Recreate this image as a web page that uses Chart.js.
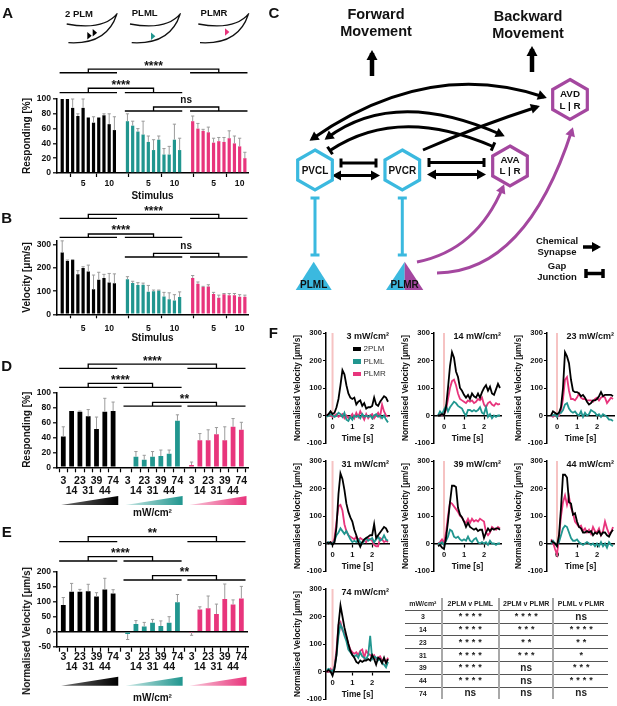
<!DOCTYPE html>
<html>
<head>
<meta charset="utf-8">
<title>PLM stimulation responses</title>
<script src="https://cdn.jsdelivr.net/npm/chart.js@4.4.1/dist/chart.umd.min.js"></script>
<style>
  html, body { margin: 0; padding: 0; background: #fff; }
  body { position: relative; width: 617px; height: 706px; overflow: hidden;
         font-family: "Liberation Sans", Arial, sans-serif; color: #111; }
  canvas { position: absolute; }
  .t { position: absolute; transform: translate(-50%, -50%); white-space: nowrap;
       font-weight: bold; line-height: 1; text-align: center; }
  #sigTable { position: absolute; left: 405px; top: 598px; width: 203px;
              border-collapse: collapse; table-layout: fixed; color: #222; }
  #sigTable td { padding: 0; text-align: center; font-weight: bold; font-size: 7px;
                 line-height: 1; height: 11.8px; border-bottom: 1px solid #555; }
  #sigTable tr:first-child td { height: 11px; }
  #sigTable tr:last-child td { border-bottom: none; }
  #sigTable td + td { border-left: 2px solid #a8a8a8; }
  #sigTable .stars { font-size: 9px; letter-spacing: 3px; padding-left: 3px; }
  #sigTable .ns { font-size: 10px; }
</style>
</head>
<body>
<script>
// ---------- data ----------
const groupNames = ['2PLM', 'PLML', 'PLMR'];
const groupColors = ['#000000', '#21968f', '#e8357c'];
const groupTints = ['#6a6a6a', '#c6e6e3', '#f9c9da'];

// A / B : repeated stimuli
const stimulusLabels = ['1', '2', '3', '4', '5', '6', '7', '8', '9', '10', '11'];
const stimulusTickLabels = ['5', '10'];

const respA_2PLM = [100, 100, 88, 77, 88, 75, 68, 75, 78, 66, 58];
const respA_2PLM_sem = [0, 0, 12, 3, 12, 0, 8, 0, 2, 14, 18];
const respA_PLML = [70, 64, 56, 52, 42, 31, 45, 25, 25, 45, 31];
const respA_PLML_sem = [10, 6, 4, 18, 8, 14, 5, 8, 11, 21, 16];
const respA_PLMR = [70, 60, 57, 55, 41, 43, 42, 47, 40, 36, 20];
const respA_PLMR_sem = [7, 7, 2, 7, 6, 5, 6, 10, 10, 11, 8];

const velB_2PLM = [268, 231, 235, 173, 200, 185, 108, 150, 157, 138, 134];
const velB_2PLM_sem = [50, 4, 2, 16, 6, 28, 62, 32, 16, 39, 41];
const velB_PLML = [152, 135, 127, 128, 98, 100, 103, 77, 65, 60, 75];
const velB_PLML_sem = [11, 8, 10, 7, 27, 5, 2, 18, 28, 25, 22];
const velB_PLMR = [157, 132, 118, 120, 88, 72, 87, 83, 83, 76, 76];
const velB_PLMR_sem = [11, 8, 3, 8, 7, 11, 3, 7, 7, 9, 7];

// D / E : light intensity (mW/cm2)
const doseLabels = ['3', '14', '23', '31', '39', '44', '74'];

const respD_2PLM = [41, 75, 74, 68, 51, 74, 75];
const respD_2PLM_sem = [13, 0, 1, 9, 16, 18, 12];
const respD_PLML = [0, 14, 10, 14, 15, 18, 62];
const respD_PLML_sem = [0, 7, 6, 7, 8, 5, 8];
const respD_PLMR = [3, 36, 36, 44, 36, 54, 50];
const respD_PLMR_sem = [4, 9, 14, 9, 18, 11, 10];

const velE_2PLM = [89, 133, 133, 135, 117, 141, 127];
const velE_2PLM_sem = [25, 28, 8, 23, 13, 37, 13];
const velE_PLML = [-8, 26, 17, 30, 19, 30, 98];
const velE_PLML_sem = [18, 11, 14, 11, 17, 20, 26];
const velE_PLMR = [-1, 74, 78, 59, 109, 91, 111];
const velE_PLMR_sem = [11, 9, 41, 33, 50, 15, 40];

// F : velocity traces
const timeSec = [-0.3, -0.2, -0.1, 0, 0.1, 0.2, 0.3, 0.4, 0.5, 0.6, 0.7, 0.8, 0.9, 1.0, 1.1, 1.2,
                 1.3, 1.4, 1.5, 1.6, 1.7, 1.8, 1.9, 2.0, 2.1, 2.2, 2.3, 2.4, 2.5, 2.6, 2.7, 2.8];
const timeTicks = [0, 1, 2];
const velocityTicks = [-100, 0, 100, 200, 300];

const v3_2PLM = [0, 5, 15, 5, 10, 30, 60, 110, 165, 150, 110, 80, 65, 60, 65, 40, 50, 55, 35, 45, 25, 30, 30, 35, 65, 40, 35, 50, 60, 70, 65, 50];
const v3_PLML = [-5, 0, 5, 0, -5, 0, 10, 5, -5, 10, -15, -20, -5, -15, 0, -5, 0, -10, 5, -5, 0, -5, 0, -10, 0, 5, -5, 0, -10, 0, -15, -25];
const v3_PLMR = [0, 5, 0, -5, 0, 5, -5, 0, 5, -10, 0, -10, -5, 5, -10, 10, -5, 15, 0, -15, 5, -10, 0, 5, -10, 0, 10, -5, 40, 15, 0, -5];

const v14_2PLM = [0, 0, 5, 0, 30, 100, 180, 230, 210, 160, 140, 100, 90, 75, 65, 75, 60, 80, 70, 65, 80, 65, 85, 100, 110, 90, 105, 80, 75, 95, 115, 100];
const v14_PLML = [0, 15, 5, 20, 35, 15, 30, 40, 50, 45, 35, 30, 25, 10, 0, 20, 20, 15, 20, 15, 20, 30, 10, 5, 30, -5, 5, -10, 0, -5, 0, 0];
const v14_PLMR = [0, 5, 0, 5, 20, 60, 100, 125, 130, 110, 80, 60, 55, 50, 45, 55, 50, 55, 45, 50, 60, 55, 65, 40, 30, 45, 50, 40, 35, 45, 40, 42];

const v23_2PLM = [0, 15, 10, 5, 10, 30, 100, 230, 215, 190, 130, 90, 85, 85, 80, 70, 75, 65, 50, 40, 45, 55, 55, 60, 70, 85, 70, 75, 75, 75, 75, 70];
const v23_PLML = [0, 0, 5, -5, 10, 10, 20, 40, 45, 25, 15, 10, 15, 5, 0, 15, -5, 10, 0, 5, 20, 15, 10, 0, 5, -5, 5, 0, -5, -15, -15, -20];
const v23_PLMR = [0, -5, 5, -5, 0, 20, 60, 130, 140, 90, 60, 60, 55, 65, 80, 65, 60, 60, 55, 55, 55, 50, 60, 65, 55, 65, 70, 65, 45, 55, 65, 60];

const v31_2PLM = [5, 0, 5, -5, 5, 60, 180, 255, 235, 195, 145, 115, 95, 80, 50, 30, 5, -12, 5, 15, 20, 25, 30, 30, 70, 20, 30, 40, 50, 60, 55, 40];
const v31_PLML = [0, 5, 0, 0, 10, 30, 40, 55, 45, 35, 45, 30, 15, 5, 10, 5, 15, 5, 0, 10, 20, 10, 15, 20, 5, 15, 25, 10, 15, 30, 15, 10];
const v31_PLMR = [5, 0, 5, 0, 20, 80, 135, 140, 120, 70, 45, 30, 25, 20, 15, 25, 10, 20, 15, 10, 5, 20, 15, 10, -5, -10, -10, 20, 15, 5, 10, 5];

const v39_2PLM = [-10, -5, -15, -20, 20, 80, 150, 210, 210, 205, 130, 105, 95, 80, 60, 75, 60, 55, 50, 55, 45, 50, 50, 20, 40, 55, 45, 55, 50, 55, 55, 50];
const v39_PLML = [0, 0, 5, -5, 10, 25, 50, 45, 25, 20, 25, 15, 10, 15, 10, 25, 10, 5, 15, 20, 5, 0, 5, 0, 5, -5, 10, 0, 0, -5, 0, 0];
const v39_PLMR = [0, 5, 15, 0, 40, 100, 150, 145, 135, 125, 115, 100, 95, 80, 75, 90, 75, 90, 80, 85, 80, 90, 85, 80, 40, 30, 40, 60, 55, 50, 60, 55];

const v44_2PLM = [10, 5, 0, -10, 30, 130, 250, 250, 240, 150, 145, 105, 110, 80, 60, 55, 40, 40, 45, 40, 45, 30, 40, 35, 45, 30, 40, 40, 30, 25, 40, 50];
const v44_PLML = [0, 10, 0, -5, 5, 30, 55, 65, 60, 40, 20, 10, 10, 15, 5, 0, -5, 0, 5, 0, -5, 0, -10, 0, -10, 5, -10, 0, -15, 5, -5, -10];
const v44_PLMR = [15, 5, -20, -40, 20, 100, 150, 175, 140, 170, 130, 110, 80, 70, 60, 65, 45, 55, 40, 50, 35, 60, 45, 40, 55, 30, 45, 80, 55, 35, 40, 60];

const v74_2PLM = [0, 5, 0, -15, 10, 60, 170, 240, 200, 160, 130, 100, 75, 60, 50, 35, 30, 40, 35, 40, 40, 45, 40, 60, 45, 25, 50, 45, 30, 50, 30, 45];
const v74_PLML = [5, 10, 5, 0, 15, 60, 130, 170, 155, 130, 110, 80, 70, 60, 55, 60, 50, 70, 55, 50, 45, 60, 130, 45, 55, 50, 40, 45, 30, 25, 15, 35];
const v74_PLMR = [0, 0, 10, 0, 20, 80, 170, 180, 150, 140, 125, 100, 80, 70, 65, 70, 60, 75, 80, 50, 75, 65, 60, 55, 60, 45, 50, 55, 40, 45, 35, 50];

// F : statistics table
const tableHeader = ['mW/cm²', '2PLM v PLML', '2PLM v PLMR', 'PLML v PLMR'];
const sig2PLMvPLML = ['****', '****', '****', '****', '****', '****', 'ns'];
const sig2PLMvPLMR = ['****', '***', '**', '***', 'ns', 'ns', 'ns'];
const sigPLMLvPLMR = ['ns', '****', '**', '*', '***', '****', 'ns'];

// ---------- setup ----------
const FONT = '"Liberation Sans", Arial, sans-serif';
Chart.defaults.font.family = FONT;
Chart.defaults.font.weight = 'bold';
Chart.defaults.color = '#111';
Chart.defaults.animation = false;
Chart.defaults.plugins.legend.display = false;
Chart.defaults.plugins.tooltip.enabled = false;

function makeCanvas(left, top, w, h) {
  const c = document.createElement('canvas');
  c.width = w; c.height = h;
  c.style.left = left + 'px'; c.style.top = top + 'px';
  document.body.appendChild(c);
  return c;
}

function addText(html, x, y, size, opts = {}) {
  const d = document.createElement('div');
  d.className = 't';
  d.innerHTML = html;
  d.style.left = x + 'px';
  d.style.top = y + 'px';
  d.style.fontSize = size + 'px';
  if (opts.lh) d.style.lineHeight = opts.lh + 'px';
  if (opts.weight) d.style.fontWeight = opts.weight;
  if (opts.color) d.style.color = opts.color;
  if (opts.transform) d.style.transform = opts.transform;
  document.body.appendChild(d);
  return d;
}

function stimulusTicks(offsets) {
  const pos = [], text = [];
  offsets.forEach(off => stimulusLabels.forEach((lab, i) => {
    if (stimulusTickLabels.includes(lab)) { pos.push(off + i + 1); text.push(lab); }
  }));
  return { pos, text };
}

function doseTicks(offsets) {
  const pos = [], text = [];
  offsets.forEach(off => doseLabels.forEach((lab, i) => {
    pos.push(off + i + 1);
    text.push(i % 2 ? ['', lab] : [lab, '']);
  }));
  return { pos, text };
}

// gray SEM whiskers on top of each bar
const errorBars = {
  id: 'errorBars',
  afterDatasetsDraw(chart) {
    const ctx = chart.ctx, y = chart.scales.y;
    ctx.save();
    ctx.strokeStyle = '#9c9c9c';
    ctx.lineWidth = 1;
    chart.data.datasets.forEach((ds, di) => {
      chart.getDatasetMeta(di).data.forEach((bar, i) => {
        const v = ds.data[i].y, e = ds.sem[i];
        if (!e) return;
        const y0 = y.getPixelForValue(v);
        const y1 = y.getPixelForValue(v < 0 ? v - e : v + e);
        ctx.beginPath();
        ctx.moveTo(bar.x, y0); ctx.lineTo(bar.x, y1);
        ctx.moveTo(bar.x - 1.6, y1); ctx.lineTo(bar.x + 1.6, y1);
        ctx.stroke();
      });
    });
    ctx.restore();
  }
};

// significance brackets and intensity wedges
function annotations(cfg) {
  return {
    id: 'annotations',
    afterDraw(chart) {
      const { ctx, scales: { x, y }, chartArea } = chart;
      const n = cfg.n;
      const ext = g => [x.getPixelForValue(cfg.offsets[g] + 0.5), x.getPixelForValue(cfg.offsets[g] + n + 0.5)];
      ctx.save();
      ctx.strokeStyle = '#000';
      ctx.lineWidth = 1.3;
      ctx.fillStyle = '#111';
      cfg.brackets.forEach(b => {
        const yu = y.getPixelForValue(b.under), yb = y.getPixelForValue(b.bridge);
        const ea = ext(b.a), eb = ext(b.b);
        const ca = (ea[0] + ea[1]) / 2, cb = (eb[0] + eb[1]) / 2;
        ctx.beginPath();
        ctx.moveTo(ea[0], yu); ctx.lineTo(ea[1], yu);
        ctx.moveTo(eb[0], yu); ctx.lineTo(eb[1], yu);
        ctx.moveTo(ca, yu); ctx.lineTo(ca, yb); ctx.lineTo(cb, yb); ctx.lineTo(cb, yu);
        ctx.stroke();
        const stars = b.text !== 'ns';
        ctx.font = (stars ? 'bold 12px ' : 'bold 10px ') + FONT;
        ctx.textAlign = 'center';
        ctx.textBaseline = 'alphabetic';
        ctx.fillText(b.text, (ca + cb) / 2, stars ? yb + 0.5 : yb - 4.4);
      });
      if (cfg.wedge) {
        const yb = chartArea.bottom + cfg.wedge.dy;
        [0, 1, 2].forEach(g => {
          const [l0, r0] = ext(g);
          const l = l0 + 2, r = r0 + 1;
          const grad = ctx.createLinearGradient(l, 0, r, 0);
          grad.addColorStop(0, groupTints[g]);
          grad.addColorStop(1, groupColors[g]);
          ctx.fillStyle = grad;
          ctx.beginPath();
          ctx.moveTo(l, yb); ctx.lineTo(r, yb); ctx.lineTo(r, yb - cfg.wedge.h);
          ctx.closePath();
          ctx.fill();
        });
      }
      ctx.restore();
    }
  };
}

function barPanel(cfg) {
  const canvas = makeCanvas(cfg.left, cfg.top, cfg.width, cfg.height);
  const datasets = cfg.values.map((vals, g) => ({
    label: groupNames[g],
    data: vals.map((v, i) => ({ x: cfg.offsets[g] + i + 1, y: v })),
    sem: cfg.sem[g],
    backgroundColor: groupColors[g],
    borderWidth: 0,
    barPercentage: cfg.barPct,
    grouped: false
  }));
  const ticks = cfg.ticks;
  return new Chart(canvas, {
    type: 'bar',
    data: { datasets },
    options: {
      responsive: false,
      layout: { padding: { top: cfg.areaTop, right: cfg.width - 248, left: 0, bottom: 0 } },
      scales: {
        x: {
          type: 'linear',
          min: cfg.xMin,
          max: cfg.xMax,
          offset: false,
          afterBuildTicks: s => { s.ticks = ticks.pos.map(v => ({ value: v })); },
          afterFit: s => { s.height = cfg.xHeight; },
          ticks: {
            autoSkip: false, maxRotation: 0, minRotation: 0,
            padding: cfg.xTickPad,
            font: { size: cfg.xTickSize, lineHeight: cfg.xTickLH },
            callback: (v, i) => ticks.text[i]
          },
          grid: { drawOnChartArea: false, tickLength: cfg.xTickLen, tickColor: '#000', tickWidth: 1.2 },
          border: { color: '#000', width: 1.5 },
          title: { display: true, text: cfg.xTitle, font: { size: 10 }, padding: { top: 0, bottom: cfg.xTitlePad } }
        },
        y: {
          min: cfg.yMin,
          max: cfg.yMax,
          afterBuildTicks: s => { s.ticks = cfg.yTicks.map(v => ({ value: v })); },
          afterFit: s => { s.width = 57; },
          ticks: { padding: 2, font: { size: 8.6 } },
          grid: {
            drawOnChartArea: !!cfg.zeroLine,
            color: c => (c.tick && c.tick.value === 0 ? '#000' : 'rgba(0,0,0,0)'),
            lineWidth: 1.6,
            tickLength: 4, tickColor: '#000', tickWidth: 1.2
          },
          border: { color: '#000', width: 1.5 },
          title: { display: !!cfg.yTitle, text: cfg.yTitle, font: { size: 10 }, padding: { top: 21, bottom: 0 } }
        }
      }
    },
    plugins: [errorBars, annotations(cfg)].concat(cfg.extra ? [cfg.extra] : [])
  });
}

// worm tail sketches above panel A
const wormSketch = {
  id: 'wormSketch',
  afterDraw(chart) {
    const ctx = chart.ctx;
    const icons = [
      { ox: 66.7, tris: [[20.6, 35.8], [26, 32.7]] },
      { ox: 130, tris: [[21, 36.2]] },
      { ox: 198.3, tris: [[26.7, 32]] }
    ];
    ctx.save();
    icons.forEach((ic, g) => {
      const ox = ic.ox;
      ctx.strokeStyle = '#111';
      ctx.lineWidth = 1.3;
      ctx.beginPath();
      ctx.moveTo(ox, 24); ctx.quadraticCurveTo(ox + 36.7, 30.7, ox + 50.7, 13.3);
      ctx.moveTo(ox + 1.7, 42.7); ctx.quadraticCurveTo(ox + 40, 45, ox + 50, 14.5);
      ctx.stroke();
      ctx.fillStyle = groupColors[g];
      ic.tris.forEach(([tx, ty]) => {
        ctx.beginPath();
        ctx.moveTo(ox + tx, ty - 3.8);
        ctx.lineTo(ox + tx, ty + 3.8);
        ctx.lineTo(ox + tx + 4.4, ty);
        ctx.closePath();
        ctx.fill();
      });
    });
    ctx.restore();
  }
};

// ---------- A ----------
barPanel({
  left: 0, top: 0, width: 252, height: 200, areaTop: 99, xHeight: 27,
  values: [respA_2PLM, respA_PLML, respA_PLMR],
  sem: [respA_2PLM_sem, respA_PLML_sem, respA_PLMR_sem],
  offsets: [0, 12.5, 25], n: stimulusLabels.length, xMin: 0, xMax: 36.6, barPct: 0.77,
  ticks: stimulusTicks([0, 12.5, 25]), xTickSize: 8.6, xTickLH: 1.2, xTickPad: 1.2, xTickLen: 4,
  xTitle: 'Stimulus', xTitlePad: -2,
  yMin: 0, yMax: 100, yTicks: [0, 20, 40, 60, 80, 100], yTitle: 'Responding [%]',
  brackets: [
    { a: 0, b: 2, under: 135.5, bridge: 140.5, text: '****' },
    { a: 0, b: 1, under: 108.5, bridge: 114.5, text: '****' },
    { a: 1, b: 2, under: 83.8, bridge: 89.2, text: 'ns' }
  ],
  extra: wormSketch
});

// ---------- B ----------
barPanel({
  left: 0, top: 200, width: 252, height: 145, areaTop: 40.4, xHeight: 30.7,
  values: [velB_2PLM, velB_PLML, velB_PLMR],
  sem: [velB_2PLM_sem, velB_PLML_sem, velB_PLMR_sem],
  offsets: [0, 12.5, 25], n: stimulusLabels.length, xMin: 0, xMax: 36.6, barPct: 0.77,
  ticks: stimulusTicks([0, 12.5, 25]), xTickSize: 8.6, xTickLH: 1.2, xTickPad: 5.6, xTickLen: 4,
  xTitle: 'Stimulus', xTitlePad: 1,
  yMin: 0, yMax: 320, yTicks: [0, 100, 200, 300], yTitle: 'Velocity [μm/s]',
  brackets: [
    { a: 0, b: 2, under: 415.8, bridge: 433.1, text: '****' },
    { a: 0, b: 1, under: 333.5, bridge: 347.8, text: '****' },
    { a: 1, b: 2, under: 248.2, bridge: 264.2, text: 'ns' }
  ]
});

// ---------- D ----------
barPanel({
  left: 0, top: 345, width: 252, height: 175, areaTop: 47.3, xHeight: 52.7,
  values: [respD_2PLM, respD_PLML, respD_PLMR],
  sem: [respD_2PLM_sem, respD_PLML_sem, respD_PLMR_sem],
  offsets: [0, 7.75, 15.45], n: doseLabels.length, xMin: 0.24, xMax: 23.25, barPct: 0.72,
  ticks: doseTicks([0, 7.75, 15.45]), xTickSize: 10.5, xTickLH: 0.96, xTickPad: 3.4, xTickLen: 5,
  xTitle: 'mW/cm²', xTitlePad: 1,
  yMin: 0, yMax: 100, yTicks: [0, 20, 40, 60, 80, 100], yTitle: 'Responding [%]',
  brackets: [
    { a: 0, b: 2, under: 132, bridge: 137.7, text: '****' },
    { a: 0, b: 1, under: 106.7, bridge: 112, text: '****' },
    { a: 1, b: 2, under: 81.7, bridge: 86.7, text: '**' }
  ],
  wedge: { dy: 37.7, h: 9 }
});

// ---------- E ----------
barPanel({
  left: 0, top: 520, width: 252, height: 186, areaTop: 51.7, xHeight: 59.3,
  values: [velE_2PLM, velE_PLML, velE_PLMR],
  sem: [velE_2PLM_sem, velE_PLML_sem, velE_PLMR_sem],
  offsets: [0, 7.75, 15.45], n: doseLabels.length, xMin: 0.24, xMax: 23.25, barPct: 0.72,
  ticks: doseTicks([0, 7.75, 15.45]), xTickSize: 10.5, xTickLH: 0.96, xTickPad: 0.3, xTickLen: 5,
  xTitle: 'mW/cm²', xTitlePad: 2,
  yMin: -50, yMax: 200, yTicks: [-50, 0, 50, 100, 150, 200], yTitle: '', zeroLine: true,
  brackets: [
    { a: 0, b: 2, under: 300, bridge: 316.7, text: '**' },
    { a: 0, b: 1, under: 235.7, bridge: 250, text: '****' },
    { a: 1, b: 2, under: 172.3, bridge: 186.7, text: '**' }
  ],
  wedge: { dy: 39, h: 9 }
});
addText('Normalised Velocity [μm/s]', 27, 631, 10, { transform: 'translate(-50%, -50%) rotate(-90deg)' });

// ---------- C : circuit diagram ----------
const CYAN = '#3bb9df', PURPLE = '#a4479f';
function unit(a, b) { const dx = b[0] - a[0], dy = b[1] - a[1], l = Math.hypot(dx, dy); return [dx / l, dy / l]; }
function arrowHead(ctx, tip, d, len, wid, color) {
  const t = [tip[0] + d[0] * 3, tip[1] + d[1] * 3];
  const b = [t[0] - d[0] * len, t[1] - d[1] * len];
  const p = [-d[1], d[0]];
  ctx.fillStyle = color;
  ctx.beginPath();
  ctx.moveTo(t[0], t[1]);
  ctx.lineTo(b[0] + p[0] * wid / 2, b[1] + p[1] * wid / 2);
  ctx.lineTo(b[0] - p[0] * wid / 2, b[1] - p[1] * wid / 2);
  ctx.closePath();
  ctx.fill();
}
function barEnd(ctx, pt, d, wid, color, lw) {
  const p = [-d[1], d[0]];
  ctx.strokeStyle = color;
  ctx.lineWidth = lw;
  ctx.beginPath();
  ctx.moveTo(pt[0] + p[0] * wid / 2, pt[1] + p[1] * wid / 2);
  ctx.lineTo(pt[0] - p[0] * wid / 2, pt[1] - p[1] * wid / 2);
  ctx.stroke();
}
function link(ctx, p0, c, p2, startEnd, endEnd, color, lw, hs = 9) {
  if (!c) c = [(p0[0] + p2[0]) / 2, (p0[1] + p2[1]) / 2];
  ctx.strokeStyle = color;
  ctx.lineWidth = lw;
  ctx.lineCap = 'butt';
  ctx.beginPath();
  ctx.moveTo(p0[0], p0[1]);
  ctx.quadraticCurveTo(c[0], c[1], p2[0], p2[1]);
  ctx.stroke();
  [[p0, unit(c, p0), startEnd], [p2, unit(c, p2), endEnd]].forEach(([pt, d, kind]) => {
    if (kind === 'arrow') arrowHead(ctx, pt, d, hs, hs + 1, color);
    if (kind === 'bar') barEnd(ctx, pt, d, 9, color, lw);
  });
}
function hexagon(ctx, cx, cy, r, color) {
  ctx.beginPath();
  for (let k = 0; k < 6; k++) {
    const a = Math.PI / 180 * (60 * k - 90);
    const px = cx + r * Math.cos(a), py = cy + r * Math.sin(a);
    if (k) ctx.lineTo(px, py); else ctx.moveTo(px, py);
  }
  ctx.closePath();
  ctx.fillStyle = '#fff';
  ctx.fill();
  ctx.strokeStyle = color;
  ctx.lineWidth = 3.2;
  ctx.stroke();
}

const circuit = {
  id: 'circuit',
  afterDraw(chart) {
    const ctx = chart.ctx;
    ctx.save();
    ctx.translate(-290, 0);
    // movement arrows
    link(ctx, [372, 76], null, [372, 53], null, 'arrow', '#000', 4.5, 10);
    link(ctx, [532, 72], null, [532, 49], null, 'arrow', '#000', 4.5, 10);
    // long range synapses
    link(ctx, [312, 139], [428, 58], [544, 97], 'arrow', 'arrow', '#000', 3);
    link(ctx, [327, 138], [395, 87], [502, 135], 'arrow', 'arrow', '#000', 3);
    link(ctx, [330, 150.5], [398, 105], [493, 146.5], 'bar', 'bar', '#000', 3);
    link(ctx, [423, 150], [478, 126], [537, 107], null, 'arrow', '#000', 3);
    // neighbour connections
    link(ctx, [341, 163], null, [376, 163], 'bar', 'bar', '#000', 3);
    link(ctx, [335, 175.5], null, [377, 175.5], 'arrow', 'arrow', '#000', 3);
    link(ctx, [429, 162.5], null, [484, 162.5], 'bar', 'bar', '#000', 3);
    link(ctx, [430, 174.5], null, [483, 174.5], 'arrow', 'arrow', '#000', 3);
    // sensory inputs
    link(ctx, [315, 198], null, [315, 255], 'bar', 'bar', CYAN, 3);
    link(ctx, [402.3, 198], null, [402.3, 255], 'bar', 'bar', CYAN, 3);
    link(ctx, [417, 262], [477, 250], [503, 187], null, 'arrow', PURPLE, 3);
    link(ctx, [437, 273], [526, 272], [572, 130], null, 'arrow', PURPLE, 3);
    // neurons
    hexagon(ctx, 315, 170, 20, CYAN);
    hexagon(ctx, 402.3, 170, 20, CYAN);
    hexagon(ctx, 510, 166, 20, PURPLE);
    hexagon(ctx, 570, 99.5, 20, PURPLE);
    ctx.fillStyle = CYAN;
    ctx.beginPath(); ctx.moveTo(295.7, 290); ctx.lineTo(331.7, 290); ctx.lineTo(313.7, 261.7); ctx.closePath(); ctx.fill();
    ctx.beginPath(); ctx.moveTo(386, 290); ctx.lineTo(404.7, 290); ctx.lineTo(404.7, 261.7); ctx.closePath(); ctx.fill();
    ctx.fillStyle = PURPLE;
    ctx.beginPath(); ctx.moveTo(404.7, 261.7); ctx.lineTo(404.7, 290); ctx.lineTo(423.3, 290); ctx.closePath(); ctx.fill();
    // key
    link(ctx, [583, 247], null, [598, 247], null, 'arrow', '#000', 3.5, 9);
    link(ctx, [586, 273.5], null, [603, 273.5], 'bar', 'bar', '#000', 3.5);
    ctx.restore();
  }
};
new Chart(makeCanvas(290, 0, 327, 300), {
  type: 'scatter',
  data: { datasets: [] },
  options: { responsive: false, scales: { x: { display: false }, y: { display: false } } },
  plugins: [circuit]
});

addText('Forward<br>Movement', 376, 23.4, 14.5, { lh: 16.7 });
addText('Backward<br>Movement', 528, 25, 14.5, { lh: 16.7 });
addText('PVCL', 315, 170.5, 10);
addText('PVCR', 402.3, 170.5, 10);
addText('AVA<br>L | R', 510, 165, 9.8, { lh: 11.4 });
addText('AVD<br>L | R', 570, 100, 9.8, { lh: 11.7 });
addText('PLML', 313.7, 285, 10);
addText('PLMR', 404.7, 285, 10);
addText('Chemical<br>Synapse', 557, 246.2, 9.5, { lh: 11 });
addText('Gap<br>Junction', 557, 272, 9.5, { lh: 10.6 });

// ---------- F : velocity traces ----------
const fPanels = [
  ['3', v3_2PLM, v3_PLML, v3_PLMR],
  ['14', v14_2PLM, v14_PLML, v14_PLMR],
  ['23', v23_2PLM, v23_PLML, v23_PLMR],
  ['31', v31_2PLM, v31_PLML, v31_PLMR],
  ['39', v39_2PLM, v39_PLML, v39_PLMR],
  ['44', v44_2PLM, v44_PLML, v44_PLMR],
  ['74', v74_2PLM, v74_PLML, v74_PLMR]
];
const colAxisX = [326, 434, 547];
const colMinT = [-0.33, -0.5, -0.5];
const rowTopY = [333, 461, 589];

const stimulusOnset = {
  id: 'stimulusOnset',
  beforeDatasetsDraw(chart) {
    const { ctx, scales: { x, y } } = chart;
    const px = x.getPixelForValue(0);
    ctx.save();
    ctx.strokeStyle = '#f6c3c3';
    ctx.lineWidth = 2;
    ctx.beginPath();
    ctx.moveTo(px, y.getPixelForValue(300));
    ctx.lineTo(px, y.getPixelForValue(0));
    ctx.stroke();
    ctx.restore();
  }
};

fPanels.forEach(([dose, ...traces], k) => {
  const col = k % 3, row = Math.floor(k / 3);
  const plotW = (2.85 - colMinT[col]) * 20;
  const left = colAxisX[col] - 40, top = rowTopY[row] - 6;
  const canvas = makeCanvas(left, top, 40 + plotW + 2, 122);
  const chart = new Chart(canvas, {
    type: 'line',
    data: {
      datasets: traces.map((vals, g) => ({
        label: groupNames[g],
        data: vals.map((v, i) => ({ x: timeSec[i], y: v })),
        borderColor: groupColors[g],
        borderWidth: 1.8,
        pointRadius: 0,
        tension: 0
      }))
    },
    options: {
      responsive: false,
      layout: { padding: { top: 6, right: 2, bottom: 6, left: 0 } },
      scales: {
        x: {
          type: 'linear',
          min: colMinT[col],
          max: 2.85,
          position: { y: 0 },
          afterBuildTicks: s => { s.ticks = timeTicks.map(v => ({ value: v })); },
          ticks: { font: { size: 7.6 }, padding: 4, maxRotation: 0, callback: v => String(v) },
          grid: { drawOnChartArea: false, tickLength: 3, tickColor: '#000', tickWidth: 1.2 },
          border: { color: '#000', width: 1.5 },
          title: { display: true, text: 'Time [s]', font: { size: 8.3 }, padding: { top: -2, bottom: 0 } }
        },
        y: {
          min: -100,
          max: 300,
          afterBuildTicks: s => { s.ticks = velocityTicks.map(v => ({ value: v })); },
          afterFit: s => { s.width = 40; },
          ticks: { font: { size: 7.6 }, padding: 1 },
          grid: { drawOnChartArea: false, tickLength: 3, tickColor: '#000', tickWidth: 1.2 },
          border: { color: '#000', width: 1.5 },
          title: { display: true, text: 'Normalised Velocity [μm/s]', font: { size: 8.3 }, padding: { top: 6.5, bottom: 0 } }
        }
      }
    },
    plugins: [stimulusOnset]
  });
  const area = chart.chartArea;
  addText(dose + ' mW/cm²', left + area.right, top + area.top + 2.5, 9,
          { transform: 'translate(-100%, -50%)' });
});

// F legend
groupNames.forEach((name, g) => {
  const y = 349 + g * 12.6;
  const sw = document.createElement('div');
  sw.style.cssText = `position:absolute;left:353px;top:${y - 2.3}px;width:7.5px;height:4.6px;background:${groupColors[g]}`;
  document.body.appendChild(sw);
  addText(name, 363.5, y, 8, { weight: 'normal', color: '#333', transform: 'translate(0, -50%)' });
});

// F table
const table = document.createElement('table');
table.id = 'sigTable';
const colWidths = [36.7, 57.3, 54.3, 54.7];
const cg = document.createElement('colgroup');
colWidths.forEach(w => { const c = document.createElement('col'); c.style.width = w + 'px'; cg.appendChild(c); });
table.appendChild(cg);
const rows = [tableHeader].concat(doseLabels.map((d, i) => [d, sig2PLMvPLML[i], sig2PLMvPLMR[i], sigPLMLvPLMR[i]]));
rows.forEach((r, ri) => {
  const tr = document.createElement('tr');
  r.forEach((cell, ci) => {
    const td = document.createElement('td');
    td.textContent = cell;
    if (ri > 0 && ci > 0) td.className = cell === 'ns' ? 'ns' : 'stars';
    tr.appendChild(td);
  });
  table.appendChild(tr);
});
document.body.appendChild(table);

// worm labels and panel letters
addText('2 PLM', 79, 14.3, 9.5);
addText('PLML', 144.7, 13.3, 9.5);
addText('PLMR', 214, 13.3, 9.5);
[['A', 7.7, 11.5], ['B', 6.7, 217], ['C', 273.8, 11.7], ['D', 6.7, 365], ['E', 6.7, 530.5], ['F', 273.3, 332]]
  .forEach(([l, x, y]) => addText(l, x, y, 15));
</script>
</body>
</html>
